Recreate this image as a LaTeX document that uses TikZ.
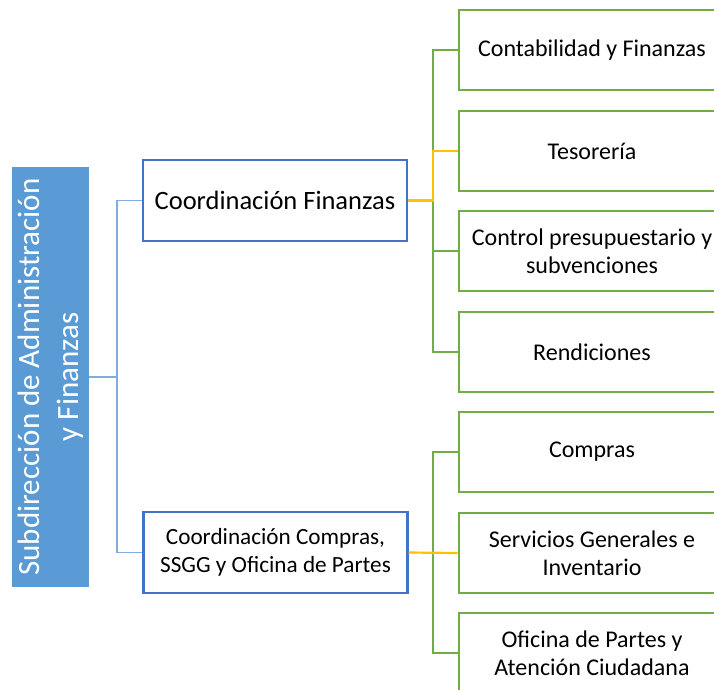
\documentclass[tikz,border=0pt]{standalone}
\usepackage{fontspec}
\setmainfont{Carlito}
\definecolor{sbblue}{HTML}{5B9BD5}
\definecolor{cbord}{HTML}{4472C4}
\definecolor{gbord}{HTML}{70AD47}
\definecolor{orng}{HTML}{FFC000}
\definecolor{lblue}{HTML}{7FADE0}
\tikzset{
  mainbox/.style={draw=none, fill=sbblue, text=white, rotate=90, minimum width=420pt, minimum height=77pt, inner sep=0pt, align=center, font=\fontsize{31}{39}\selectfont},
  coordbox/.style={draw=cbord, line width=2.2pt, fill=white, minimum width=264pt, minimum height=81pt, inner sep=0pt, align=center},
  leafbox/.style={draw=gbord, line width=2.8pt, fill=white, minimum width=266pt, minimum height=80pt, inner sep=0pt, align=center, font=\fontsize{24}{28}\selectfont},
  bline/.style={draw=lblue, line width=1.3pt},
  gline/.style={draw=gbord, line width=1.2pt},
  oline/.style={draw=orng, line width=2.2pt},
}
\begin{document}
\begin{tikzpicture}[x=1pt,y=-1pt]
\useasboundingbox (0,0) rectangle (714,689);
\clip (0,0) rectangle (714,689);
\node[mainbox] (sub) at (50.5,377) {Subdirección de Administración\\y Finanzas};
\node[coordbox, font=\fontsize{26.5}{32}\selectfont] (cf) at (275,200.5) {Coordinación Finanzas};
\node[coordbox, font=\fontsize{23.2}{27.5}\selectfont] (cc) at (275.5,552.5) {Coordinación Compras,\\SSGG y Oficina de Partes};
\node[leafbox] (l1) at (592,50) {Contabilidad y Finanzas};
\node[leafbox] (l2) at (592,151) {Tesorería};
\node[leafbox] (l3) at (592,251) {Control presupuestario y\\subvenciones};
\node[leafbox] (l4) at (592,352) {Rendiciones};
\node[leafbox] (l5) at (592,452) {Compras};
\node[leafbox] (l6) at (592,553) {Servicios Generales e\\Inventario};
\node[leafbox] (l7) at (592,653) {Oficina de Partes y\\Atención Ciudadana};
\coordinate (bj) at (117,377);
\coordinate (gj1) at (433,200.5);
\coordinate (gj2) at (433,552.5);
% left connectors
\draw[bline] (sub.south) -- (bj);
\draw[bline] (cf.west) -| (bj) |- (cc.west);
% green connectors
\draw[gline] (l1.west) -| (gj1);
\draw[gline] (l3.west) -| (gj1);
\draw[gline] (l4.west) -| (gj1);
\draw[gline] (l5.west) -| (gj2);
\draw[gline] (l7.west) -| (gj2);
% highlighted
\draw[oline] (cf.east) -- (gj1) |- (l2.west);
\draw[oline] (cc.east) -- (l6.west);
\end{tikzpicture}
\end{document}
